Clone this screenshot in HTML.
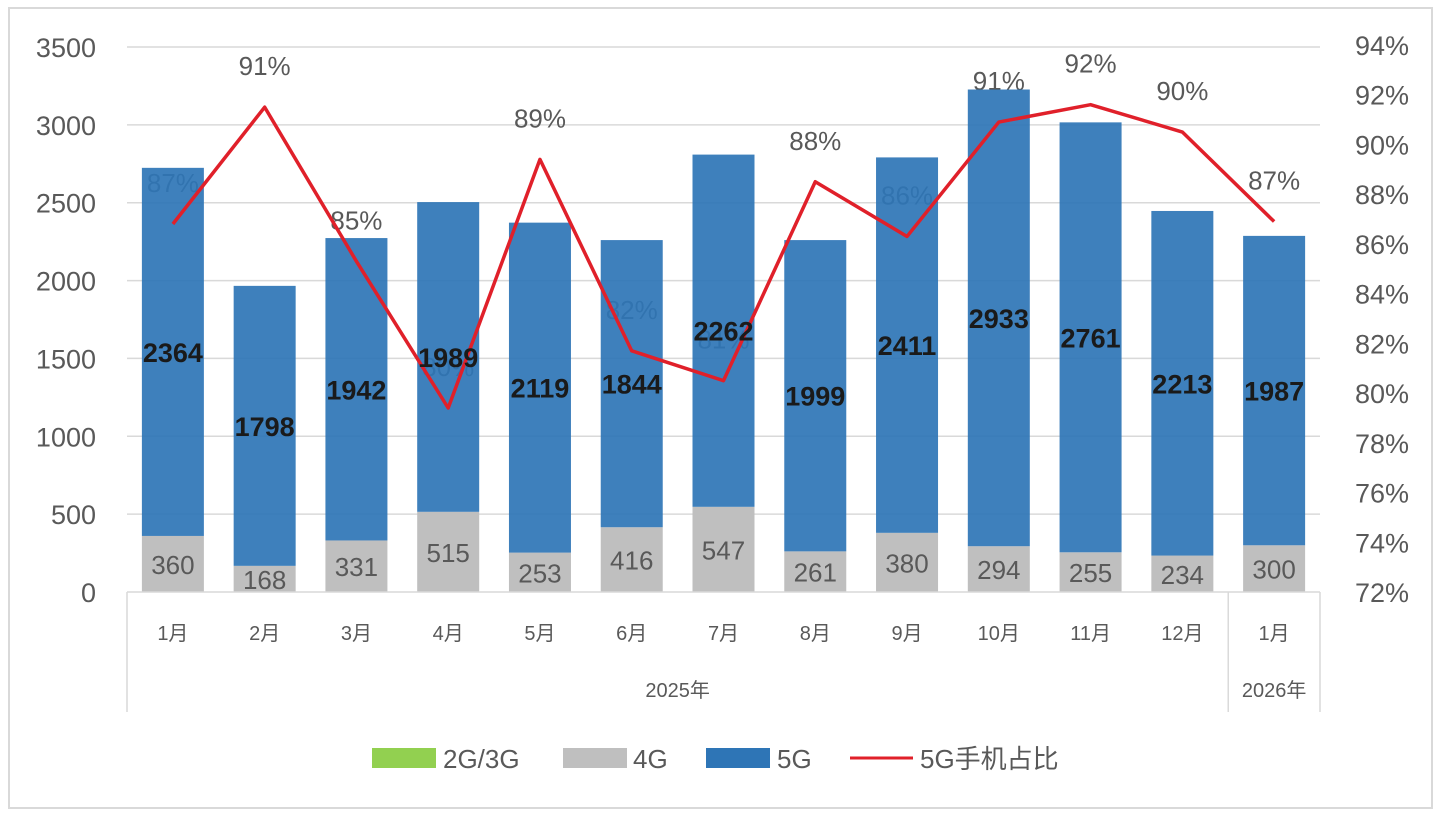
<!DOCTYPE html>
<html><head><meta charset="utf-8"><style>
body{margin:0;background:#fff;}
svg text{font-family:"Liberation Sans","Noto Sans CJK SC",sans-serif;}
</style></head><body>
<svg id="chart" width="1440" height="817" xmlns="http://www.w3.org/2000/svg">
<rect x="9" y="8" width="1423" height="800" fill="#fff" stroke="#d9d9d9" stroke-width="2"/>
<g id="grid"></g><g id="sharelabels"></g><g id="bars"></g><g id="axes"></g><g id="line"></g><g id="labels"></g>
<g id="legend">
<rect x="372" y="748" width="64" height="20" fill="#92d050"/>
<text x="443" y="768" font-size="26" fill="#595959">2G/3G</text>
<rect x="563" y="748" width="64" height="20" fill="#bfbfbf"/>
<text x="633" y="768" font-size="26" fill="#595959">4G</text>
<rect x="706" y="748" width="64" height="20" fill="#2e75b6"/>
<text x="777" y="768" font-size="26" fill="#595959">5G</text>
<line x1="850" y1="758" x2="913" y2="758" stroke="#e0202a" stroke-width="3"/>
<text x="920" y="768" font-size="26" fill="#595959">5G手机占比</text>
</g>
</svg>
<script>
const categories=["1月","2月","3月","4月","5月","6月","7月","8月","9月","10月","11月","12月","1月"];
const values4G=[360,168,331,515,253,416,547,261,380,294,255,234,300];
const values5G=[2364,1798,1942,1989,2119,1844,2262,1999,2411,2933,2761,2213,1987];
const share5G=[86.8,91.5,85.3,79.4,89.4,81.7,80.5,88.5,86.3,90.9,91.6,90.5,86.9];
const shareLabels=["87%","91%","85%","80%","89%","82%","81%","88%","86%","91%","92%","90%","87%"];
const leftTicks=[0,500,1000,1500,2000,2500,3000,3500];
const rightTicks=[72,74,76,78,80,82,84,86,88,90,92,94];

const NS="http://www.w3.org/2000/svg";
const X0=127,X1=1320,Y0=592,Y1=47;
const catW=(X1-X0)/categories.length, barW=62;
const yL=v=>Y0-(v/3500)*(Y0-Y1);
const yR=v=>Y0-((v-72)/22)*(Y0-45);
const xC=i=>X0+catW*(i+0.5);
function mk(tag,attrs,parent,txt){const e=document.createElementNS(NS,tag);for(const k in attrs)e.setAttribute(k,attrs[k]);if(txt!==undefined)e.textContent=txt;document.getElementById(parent).appendChild(e);return e;}

leftTicks.forEach(t=>{
 if(t>0){const g=mk('line',{x1:X0,x2:X1,y1:yL(t),y2:yL(t),stroke:'#d9d9d9','stroke-width':1.5},'grid');
 
 }
 const l=mk('text',{x:96,y:yL(t)+10,'text-anchor':'end','font-size':27,fill:'#595959'},'axes',t);
 
 
});
rightTicks.forEach(t=>{
 const l=mk('text',{x:1409,y:yR(t)+10,'text-anchor':'end','font-size':27,fill:'#595959'},'axes',t+'%');
 
 
});
categories.forEach((c,i)=>{
 const x=xC(i);
 const b4=mk('rect',{x:x-barW/2,y:yL(values4G[i]),width:barW,height:Y0-yL(values4G[i]),fill:'#bfbfbf'},'bars');
 
 
 const top=values4G[i]+values5G[i];
 const b5=mk('rect',{x:x-barW/2,y:yL(top),width:barW,height:yL(values4G[i])-yL(top),fill:'#2e75b6','fill-opacity':0.92},'bars');
 
 
 const l4=mk('text',{x:x,y:yL(values4G[i]/2)+10,'text-anchor':'middle','font-size':26,fill:'#595959'},'labels',values4G[i]);
 
 
 const l5=mk('text',{x:x,y:yL(values4G[i]+values5G[i]/2)+10,'text-anchor':'middle','font-size':27,'font-weight':'bold',fill:'#1a1a1a'},'labels',values5G[i]);
 
 
 const cl=mk('text',{x:x,y:640,'text-anchor':'middle','font-size':20,fill:'#595959'},'axes',c);
 
 
 const sl=mk('text',{x:x,y:yR(share5G[i])-32,'text-anchor':'middle','font-size':26,fill:'#595959'},'sharelabels',shareLabels[i]);
 
 
});
[[X0,Y0,X1,Y0],[X0,Y0,X0,712],[X0+catW*12,Y0,X0+catW*12,712],[X1,Y0,X1,712]].forEach(a=>{
 const l=mk('line',{x1:a[0],y1:a[1],x2:a[2],y2:a[3],stroke:'#d9d9d9','stroke-width':1.5},'axes');
 
 
});
const g1=mk('text',{x:(X0+X0+catW*12)/2,y:697,'text-anchor':'middle','font-size':20,fill:'#595959'},'axes','2025年');


const g2=mk('text',{x:xC(12),y:697,'text-anchor':'middle','font-size':20,fill:'#595959'},'axes','2026年');


const pts=share5G.map((v,i)=>xC(i)+','+yR(v)).join(' ');
const pl=mk('polyline',{points:pts,fill:'none',stroke:'#e0202a','stroke-width':3.5,'stroke-linejoin':'round'},'line');


</script>
</body></html>
